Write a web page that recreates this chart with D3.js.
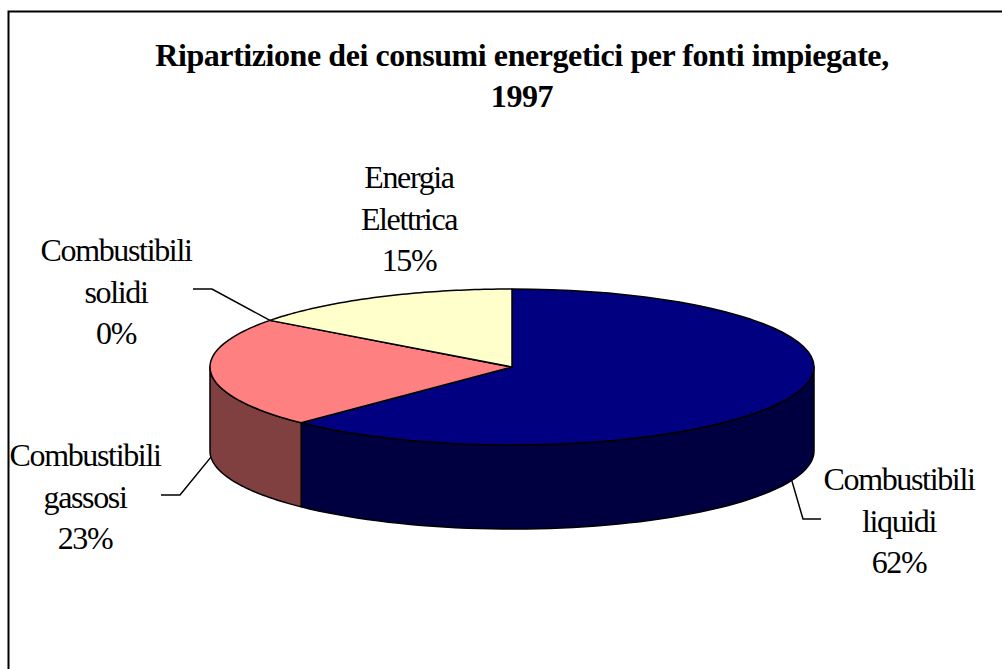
<!DOCTYPE html>
<html>
<head>
<meta charset="utf-8">
<script src="https://cdn.jsdelivr.net/npm/d3@7"></script>
<style>
html, body { margin: 0; padding: 0; background: #fff; }
svg { display: block; }
text { font-family: "Liberation Serif", serif; fill: #000; }
</style>
</head>
<body>
<div id="chart"></div>
<script>
var categories = ["Combustibili liquidi", "Combustibili gassosi", "Combustibili solidi", "Energia Elettrica"];
var shares = [62.3, 22.9, 0, 14.8];
var topColors = ["#000080", "#ff8080", "#c0c0c0", "#ffffcc"];
var sideColors = ["#000040", "#804040", "#606060", "#808066"];
var labelLines = [
	["Combustibili", "liquidi", "62%"],
	["Combustibili", "gassosi", "23%"],
	["Combustibili", "solidi", "0%"],
	["Energia", "Elettrica", "15%"]
];
var titleLines = ["Ripartizione dei consumi energetici per fonti impiegate,", "1997"];

var width = 1002, height = 669;
var cx = 512, cy = 367, rx = 302, ry = 78, depth = 84;

var svg = d3.select("#chart").append("svg")
	.attr("width", width)
	.attr("height", height);

// chart frame, runs off the picture on the right and at the bottom
svg.append("path")
	.attr("d", "M8.5," + height + "V11.5H" + width)
	.attr("fill", "none")
	.attr("stroke", "#000")
	.attr("stroke-width", 2);

var pie = d3.pie().sort(null).value(function(d) { return d; });
var slices = pie(shares);

// x/y scales go from the unit circle to the tilted disc
var x = d3.scaleLinear().domain([-1, 1]).range([cx - rx, cx + rx]);
var y = d3.scaleLinear().domain([-1, 1]).range([cy - ry, cy + ry]);

function rimPoint(a, drop) {
	return [x(Math.sin(a)), y(-Math.cos(a)) + drop];
}

function rimAngles(a0, a1) {
	return d3.range(0, 61).map(function(i) { return a0 + (a1 - a0) * i / 60; });
}

var line = d3.line();

// side wall only shows on the front half of the disc
var frontStart = Math.PI / 2, frontEnd = Math.PI * 1.5;
slices.forEach(function(s, i) {
	var a0 = Math.max(s.startAngle, frontStart);
	var a1 = Math.min(s.endAngle, frontEnd);
	if (a1 <= a0) return;
	var upper = rimAngles(a0, a1).map(function(a) { return rimPoint(a, 0); });
	var lower = rimAngles(a1, a0).map(function(a) { return rimPoint(a, depth); });
	svg.append("path")
		.attr("d", line(upper.concat(lower)) + "Z")
		.attr("fill", sideColors[i])
		.attr("stroke", "#000")
		.attr("stroke-width", 1.5)
		.attr("stroke-linejoin", "round");
});

// top of the pie
slices.forEach(function(s, i) {
	if (s.endAngle <= s.startAngle) return;
	var rim = rimAngles(s.startAngle, s.endAngle).map(function(a) { return rimPoint(a, 0); });
	svg.append("path")
		.attr("d", line([[cx, cy]].concat(rim)) + "Z")
		.attr("fill", topColors[i])
		.attr("stroke", "#000")
		.attr("stroke-width", 1.5)
		.attr("stroke-linejoin", "round");
});

// leader lines, anchored on the slice they belong to
function leader(i, drop, elbowX, elbowY, endX) {
	var mid = (slices[i].startAngle + slices[i].endAngle) / 2;
	var p = rimPoint(mid, drop);
	svg.append("path")
		.attr("d", line([p, [elbowX, elbowY], [endX, elbowY]]))
		.attr("fill", "none")
		.attr("stroke", "#000")
		.attr("stroke-width", 1.5);
}
leader(0, 84, 803, 519, 821);
leader(1, 84, 180, 495, 161);
leader(2, 0, 212, 289, 193);

// title
svg.selectAll("text.title")
	.data(titleLines)
	.enter().append("text")
	.attr("class", "title")
	.attr("x", 522)
	.attr("y", function(d, i) { return 66 + i * 41; })
	.attr("text-anchor", "middle")
	.style("font-size", "32px")
	.style("font-weight", "bold")
	.style("letter-spacing", "-0.43px")
	.text(function(d) { return d; });

// slice labels
var labelX = [899, 85, 116, 409];
var labelY = [490, 466, 261, 188];
labelLines.forEach(function(lines, i) {
	svg.selectAll("text.label" + i)
		.data(lines)
		.enter().append("text")
		.attr("class", "label" + i)
		.attr("x", labelX[i])
		.attr("y", function(d, j) { return labelY[i] + j * 41.5; })
		.attr("text-anchor", "middle")
		.style("font-size", "32px")
		.style("letter-spacing", "-1.35px")
		.text(function(d) { return d; });
});
</script>
</body>
</html>
